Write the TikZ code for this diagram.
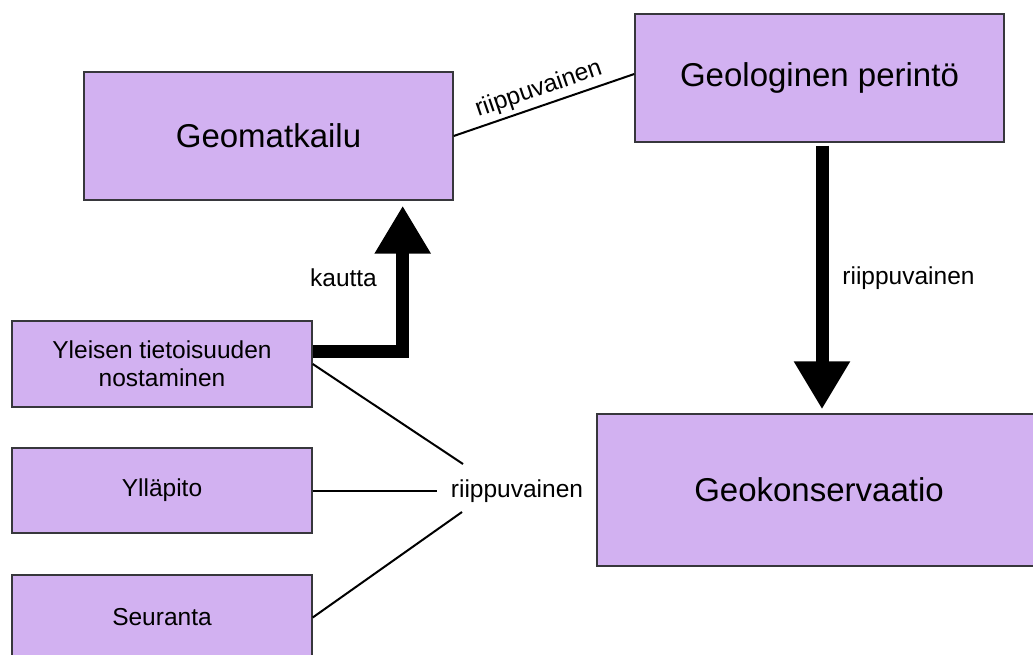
\documentclass[tikz,border=0pt]{standalone}
\usepackage{fontspec}
\setmainfont{Liberation Sans}
\usetikzlibrary{arrows.meta,calc}
\definecolor{boxfill}{RGB}{210,177,241}
\definecolor{boxline}{RGB}{55,55,60}
\begin{document}
\begin{tikzpicture}[x=1pt,y=-1pt,
  box/.style={draw=boxline,fill=boxfill,line width=1.4pt,inner sep=0pt,align=center},
  bigtext/.style={font=\fontsize{33}{40}\selectfont},
  smalltext/.style={font=\fontsize{24.5}{28}\selectfont},
  link/.style={line width=2pt,black},
  fatarrow/.style={line width=13pt,black,-{Triangle[width=53pt,length=48pt]}}]
\useasboundingbox (0,0) rectangle (1033,655);
\clip (0,0) rectangle (1033,655);

% concept boxes
\node[box,bigtext,minimum width=369pt,minimum height=128pt] (gm) at (268.5,136) {Geomatkailu};
\node[box,bigtext,minimum width=369pt,minimum height=128pt] (gp) at (819.5,78) {Geologinen perintö};
\node[box,bigtext,minimum width=444pt,minimum height=152pt] (gk) at (819,490) {Geokonservaatio};
\node[box,smalltext,minimum width=300pt,minimum height=86pt] (yl) at (162,364) {Yleisen tietoisuuden\\nostaminen};
\node[box,smalltext,minimum width=300pt,minimum height=85pt] (yp) at (162,490.5) {Ylläpito};
\node[box,smalltext,minimum width=300pt,minimum height=85pt] (se) at (162,617.5) {Seuranta};

% free labels
\node[smalltext,anchor=base] (lk) at (343.5,286) {kautta};
\node[smalltext,anchor=base] (lr) at (908.5,284) {riippuvainen};
\node[smalltext,anchor=base] (lm) at (517,497) {riippuvainen};

% loose ends of the dependency lines
\coordinate (c1) at (463,464);
\coordinate (c2) at (437,490.5);
\coordinate (c3) at (462,512);

% connectors
\draw[link] (gm.east) -- node[smalltext,sloped,above,inner sep=4pt] {riippuvainen} ([yshift=4pt]gp.west);
\draw[link] ([yshift=0pt]yl.east) -- (c1);
\draw[link] (yp.east) -- (c2);
\draw[link] (se.east) -- (c3);

\draw[fatarrow,shorten >=5pt] ([yshift=12.5pt]yl.east) -| ([xshift=-51pt]gm.south east);
\draw[fatarrow,shorten <=3pt,shorten >=4pt] ([xshift=2.5pt]gp.south) -- ([xshift=3pt]gk.north);
\end{tikzpicture}
\end{document}
